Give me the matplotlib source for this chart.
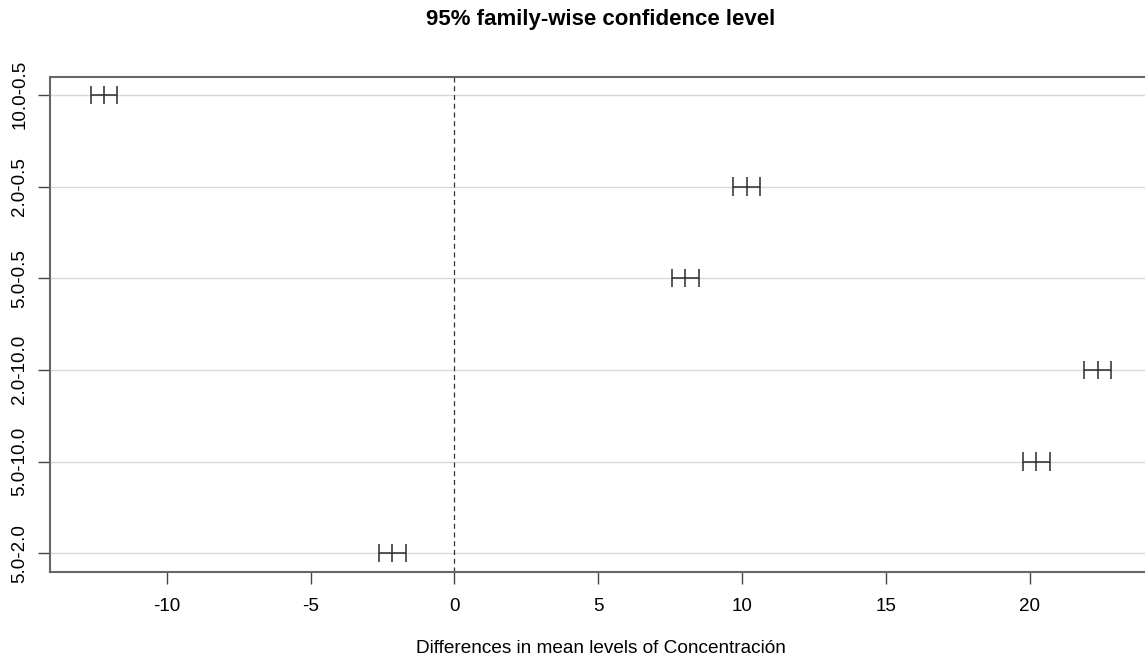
import numpy as np
import matplotlib
matplotlib.use('Agg')
import matplotlib.pyplot as plt

plt.rcParams['font.family'] = ['Liberation Sans', 'DejaVu Sans']

# Tukey HSD comparisons (top to bottom in the plot)
comparisons = ['10.0-0.5', '2.0-0.5', '5.0-0.5', '2.0-10.0', '5.0-10.0', '5.0-2.0']
diff = [-12.17, 10.18, 8.03, 22.38, 20.23, -2.15]
lwr = [-12.64, 9.70, 7.57, 21.89, 19.77, -2.61]
upr = [-11.74, 10.63, 8.52, 22.84, 20.70, -1.67]

n = len(comparisons)
yvals = np.arange(n, 0, -1)

fig = plt.figure(figsize=(11.45, 6.57), dpi=100)
ax = fig.add_axes([50/1145, 85.5/657, 1102/1145, 495/657])

for y in yvals:
    ax.axhline(y, color='#d9d9d9', lw=1, zorder=0)
ax.axvline(0, color='#333333', lw=0.9, ls=(0, (4, 3)), zorder=1)

ink = '#2b2b2b'
ax.hlines(yvals, lwr, upr, color=ink, lw=1.1)
for xs in (lwr, diff, upr):
    ax.vlines(xs, yvals - 0.1, yvals + 0.1, color=ink, lw=1.1)

rng = max(upr) - min(lwr)
ax.set_xlim(min(lwr) - 0.04 * rng, max(upr) + 0.04 * rng)
ax.set_ylim(1 - 0.04 * (n - 1), n + 0.04 * (n - 1))

ax.set_xticks([-10, -5, 0, 5, 10, 15, 20])
ax.set_xticklabels(['-10', '-5', '0', '5', '10', '15', '20'])
ax.set_yticks(yvals)
ax.set_yticklabels(comparisons, rotation=90, va='center')

for s in ax.spines.values():
    s.set_color('#666666')
    s.set_linewidth(1.5)
ax.tick_params(axis='both', colors='#444444', length=8.5, width=1, labelsize=13.5,
               labelcolor='black')
ax.tick_params(axis='x', pad=10.5)
ax.tick_params(axis='y', pad=7)

ax.set_title('95% family-wise confidence level', fontsize=16, fontweight='bold', pad=37)
ax.set_xlabel('Differences in mean levels of Concentración', fontsize=13.7, labelpad=18)

fig.savefig('out.png', dpi=100)
